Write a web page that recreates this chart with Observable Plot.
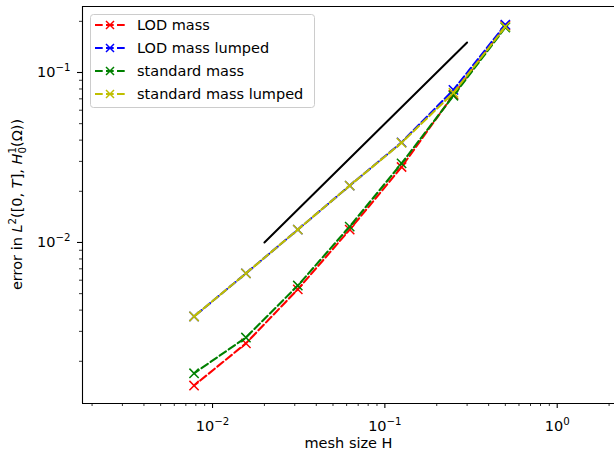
<!DOCTYPE html>
<html><head><meta charset="utf-8">
<script src="https://cdn.jsdelivr.net/npm/d3@7"></script>
<script src="https://cdn.jsdelivr.net/npm/@observablehq/plot@0.6"></script>
<style>
html,body{margin:0;padding:0;background:#fff;}
#wrap{position:relative;width:614px;height:454px;font-family:"DejaVu Sans",sans-serif;}
#legend{position:absolute;left:0;top:0;pointer-events:none;}
</style></head><body><div id="wrap"></div>
<script>
// ---- data ----
const meshSize = [0.5, 0.25, 0.125, 0.0625, 0.03125, 0.015625, 0.0078125];
const lodMass = [0.189, 0.074, 0.0278, 0.0119, 0.0053, 0.00255, 0.00144];
const lodMassLumped = [0.191, 0.079, 0.0388, 0.0216, 0.0119, 0.00658, 0.00367];
const standardMass = [0.184, 0.073, 0.0292, 0.0124, 0.00558, 0.00276, 0.00170];
const standardMassLumped = [0.186, 0.076, 0.0386, 0.0216, 0.0119, 0.00658, 0.00367];
const seriesNames = ["LOD mass", "LOD mass lumped", "standard mass", "standard mass lumped"];
const seriesColors = ["#ff0000", "#0000ff", "#008000", "#bfbf00"];
const seriesValues = [lodMass, lodMassLumped, standardMass, standardMassLumped];
const refLineH = [0.02, 0.3];
const refLineErr = [0.01, 0.15];
const xMajorTicks = [0.01, 0.1, 1];
const xMinorTicks = [0.002,0.003,0.004,0.005,0.006,0.007,0.008,0.009,0.02,0.03,0.04,0.05,0.06,0.07,0.08,0.09,0.2,0.3,0.4,0.5,0.6,0.7,0.8,0.9,2];
const yMajorTicks = [0.01, 0.1];
const yMinorTicks = [0.002,0.003,0.004,0.005,0.006,0.007,0.008,0.009,0.02,0.03,0.04,0.05,0.06,0.07,0.08,0.09,0.2];
const xDomain = [0.00176, 2.15];
const yDomain = [0.001129, 0.2445];

// ---- helpers ----
const expFmt = v => "10^" + String(Math.round(Math.log10(v))).replace("-", "\u2212");
const dash = "7.7,3.3";

const marks = [];
seriesValues.forEach((vals, i) => {
  const rows = meshSize.map((h, j) => ({H: h, err: vals[j]}));
  marks.push(Plot.line(rows, {x: "H", y: "err", stroke: seriesColors[i], strokeWidth: 2.1, strokeDasharray: dash}));
  marks.push(Plot.dot(rows, {x: "H", y: "err", symbol: "times", r: 4.3, stroke: seriesColors[i], strokeWidth: 1.5}));
});
const refRows = refLineH.map((h, j) => ({H: h, err: refLineErr[j]}));
marks.push(Plot.line(refRows, {x: "H", y: "err", stroke: "#000", strokeWidth: 2}));

const chart = Plot.plot({
  width: 614, height: 454,
  marginLeft: 82, marginRight: 0, marginTop: 6, marginBottom: 51,
  x: {type: "log", domain: xDomain, label: null},
  y: {type: "log", domain: yDomain, label: null},
  style: {fontFamily: "DejaVu Sans", fontSize: "14.5px", color: "#000", background: "#fff", overflow: "visible"},
  marks: [
    Plot.ruleY([yDomain[0]], {stroke: "#000", strokeWidth: 1.1}),
    Plot.ruleY([yDomain[1]], {stroke: "#000", strokeWidth: 1.1}),
    Plot.ruleX([xDomain[0]], {stroke: "#000", strokeWidth: 1.1}),
    Plot.axisX(xMajorTicks, {anchor: "bottom", tickSize: 5, tickPadding: 12, tickFormat: expFmt, label: null, strokeWidth: 1.1}),
    Plot.axisX(xMinorTicks, {anchor: "bottom", tickSize: 3, tickFormat: () => "", label: null, strokeWidth: 0.8}),
    Plot.axisY(yMajorTicks, {anchor: "left", tickSize: 5, tickPadding: 7, tickFormat: expFmt, label: null, strokeWidth: 1.1}),
    Plot.axisY(yMinorTicks, {anchor: "left", tickSize: 3, tickFormat: () => "", label: null, strokeWidth: 0.8}),
    Plot.text(["mesh size H"], {frameAnchor: "bottom", dy: 44, fontSize: 14.5, fill: "#000"}),
    ...marks
  ]
});
document.getElementById("wrap").appendChild(chart);
const svg = d3.select(chart);

// render "10^e" tick labels as base + superscript tspans
svg.selectAll("text").each(function() {
  const el = d3.select(this);
  const s = el.text();
  if (s.startsWith("10^")) {
    const e = s.slice(3);
    el.text("10");
    el.append("tspan").attr("font-size", 10.2).attr("dy", -6).text(e);
  }
});

// y-axis label with math
const yl = svg.append("text")
  .attr("transform", "translate(22,204.5) rotate(-90)")
  .attr("text-anchor", "middle")
  .attr("font-family", "DejaVu Sans")
  .attr("font-size", 14.5)
  .attr("fill", "#000");
const parts = [
  {t: "error in "},
  {t: "L", it: true},
  {t: "2", small: true, dy: -6},
  {t: "([0, ", dy: 6},
  {t: "T", it: true},
  {t: "], "},
  {t: "H", it: true},
  {t: "1", small: true, dy: -6},
  {t: "0", small: true, dy: 10, dx: -6.4},
  {t: "(Ω))", dy: -4}
];
parts.forEach(p => {
  const ts = yl.append("tspan").text(p.t);
  if (p.it) ts.attr("font-style", "italic");
  if (p.small) ts.attr("font-size", 10.2);
  if (p.dy) ts.attr("dy", p.dy);
  if (p.dx) ts.attr("dx", p.dx);
});

// legend overlay
const lg = d3.select("#wrap").append("svg").attr("id", "legend").attr("width", 614).attr("height", 454);
lg.append("rect").attr("x", 90.5).attr("y", 14.5).attr("width", 224).attr("height", 93)
  .attr("rx", 3).attr("fill", "rgba(255,255,255,0.8)").attr("stroke", "#cccccc").attr("stroke-width", 1);
seriesNames.forEach((name, i) => {
  const cy = 25 + i * 23;
  lg.append("line").attr("x1", 95).attr("x2", 125).attr("y1", cy).attr("y2", cy)
    .attr("stroke", seriesColors[i]).attr("stroke-width", 2.1).attr("stroke-dasharray", dash);
  lg.append("path").attr("d", `M106,${cy-4}L114,${cy+4}M106,${cy+4}L114,${cy-4}`)
    .attr("stroke", seriesColors[i]).attr("stroke-width", 1.5).attr("fill", "none");
  lg.append("text").attr("x", 137).attr("y", cy).attr("dy", "0.35em")
    .attr("font-family", "DejaVu Sans").attr("font-size", 14.5).attr("fill", "#000").text(name);
});
</script></body></html>
